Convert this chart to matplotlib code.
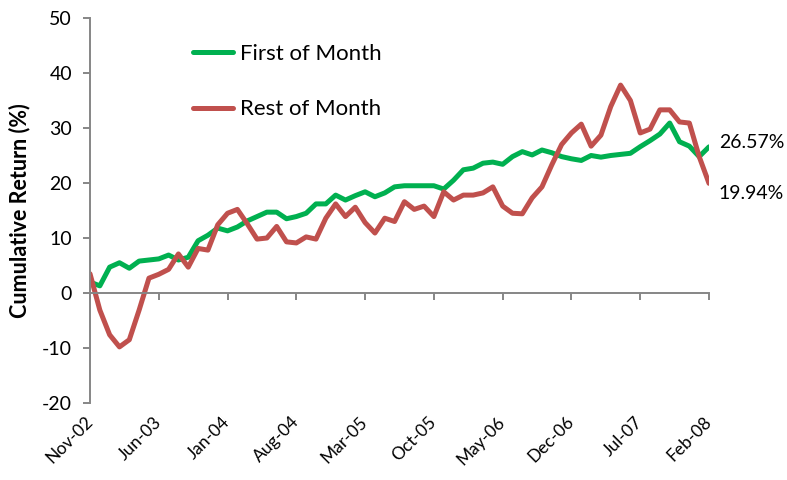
import matplotlib
matplotlib.use("Agg")
from matplotlib import pyplot as plt

plt.rcParams['font.family'] = ['Lato', 'DejaVu Sans']
plt.rcParams['axes.unicode_minus'] = False

# monthly, Nov-02 .. Feb-08
months = ['Nov-02', 'Dec-02', 'Jan-03', 'Feb-03', 'Mar-03', 'Apr-03', 'May-03', 'Jun-03',
          'Jul-03', 'Aug-03', 'Sep-03', 'Oct-03', 'Nov-03', 'Dec-03', 'Jan-04', 'Feb-04',
          'Mar-04', 'Apr-04', 'May-04', 'Jun-04', 'Jul-04', 'Aug-04', 'Sep-04', 'Oct-04',
          'Nov-04', 'Dec-04', 'Jan-05', 'Feb-05', 'Mar-05', 'Apr-05', 'May-05', 'Jun-05',
          'Jul-05', 'Aug-05', 'Sep-05', 'Oct-05', 'Nov-05', 'Dec-05', 'Jan-06', 'Feb-06',
          'Mar-06', 'Apr-06', 'May-06', 'Jun-06', 'Jul-06', 'Aug-06', 'Sep-06', 'Oct-06',
          'Nov-06', 'Dec-06', 'Jan-07', 'Feb-07', 'Mar-07', 'Apr-07', 'May-07', 'Jun-07',
          'Jul-07', 'Aug-07', 'Sep-07', 'Oct-07', 'Nov-07', 'Dec-07', 'Jan-08', 'Feb-08']

first_of_month = [2.0, 1.3, 4.7, 5.5, 4.5, 5.8, 6.0, 6.2, 6.9, 6.0,
                  6.5, 9.5, 10.5, 11.8, 11.3, 12.0, 13.1, 13.9, 14.7, 14.7,
                  13.5, 13.9, 14.5, 16.2, 16.2, 17.8, 16.9, 17.7, 18.4, 17.5,
                  18.2, 19.3, 19.5, 19.5, 19.5, 19.5, 18.9, 20.5, 22.4, 22.7,
                  23.6, 23.8, 23.4, 24.8, 25.7, 25.1, 26.0, 25.5, 24.8, 24.4,
                  24.1, 25.0, 24.7, 25.0, 25.2, 25.4, 26.6, 27.7, 28.9, 30.9,
                  27.5, 26.7, 24.8, 26.57]

rest_of_month = [3.5, -3.1, -7.6, -9.8, -8.5, -3.1, 2.7, 3.4, 4.3, 7.1,
                 4.7, 8.1, 7.8, 12.4, 14.5, 15.2, 12.6, 9.8, 10.0, 12.1,
                 9.3, 9.1, 10.2, 9.8, 13.6, 16.2, 13.9, 15.6, 12.8, 10.9,
                 13.6, 13.0, 16.6, 15.2, 15.8, 13.9, 18.4, 16.9, 17.8, 17.8,
                 18.2, 19.3, 15.8, 14.5, 14.4, 17.3, 19.3, 23.3, 27.0, 29.1,
                 30.7, 26.7, 28.7, 33.9, 37.8, 35.0, 29.1, 29.8, 33.3, 33.3,
                 31.1, 30.9, 24.8, 19.94]

x = list(range(len(months)))

fig = plt.figure(figsize=(7.87, 4.8), dpi=100)
ax = fig.add_axes([90/787, 1 - 403/480, (709 - 90)/787, (403 - 18)/480])

ax.plot(x, first_of_month, color='#00B050', lw=3.6, solid_joinstyle='round',
        solid_capstyle='round', label='First of Month')
ax.plot(x, rest_of_month, color='#C0504D', lw=3.6, solid_joinstyle='round',
        solid_capstyle='round', label='Rest of Month')

ax.set_xlim(0, len(months) - 1)
ax.set_ylim(-20, 50)
ax.set_yticks(range(-20, 51, 10))
ax.set_xticks(x[::7])
ax.set_xticklabels(months[::7])

for s in ['top', 'right']:
    ax.spines[s].set_visible(False)
ax.spines['bottom'].set_position(('data', 0))
for s in ['left', 'bottom']:
    ax.spines[s].set_color('#868686')
    ax.spines[s].set_linewidth(1.4)
ax.tick_params(axis='both', colors='#868686', width=1.4, length=5, labelcolor='black',
               labelsize=14)
ax.tick_params(axis='x', pad=86, labelsize=12.5)
ax.tick_params(axis='y', pad=8)
plt.setp(ax.get_xticklabels(), rotation=45, ha='right', va='center',
         rotation_mode='anchor')

ax.set_ylabel('Cumulative Return (%)', fontsize=15.5, fontweight='bold', labelpad=8)

ax.legend(loc='upper left', bbox_to_anchor=(0.134, 0.985), frameon=False, fontsize=16,
          handlelength=1.8, labelspacing=1.6, handletextpad=0.3)

ax.annotate('%.2f%%' % first_of_month[-1], (x[-1], first_of_month[-1]),
            xytext=(7, 3), textcoords='offset points', va='center', fontsize=14,
            annotation_clip=False)
ax.annotate('%.2f%%' % rest_of_month[-1], (x[-1], rest_of_month[-1]),
            xytext=(7, -7), textcoords='offset points', va='center', fontsize=14,
            annotation_clip=False)

fig.savefig('out.png', dpi=100)
